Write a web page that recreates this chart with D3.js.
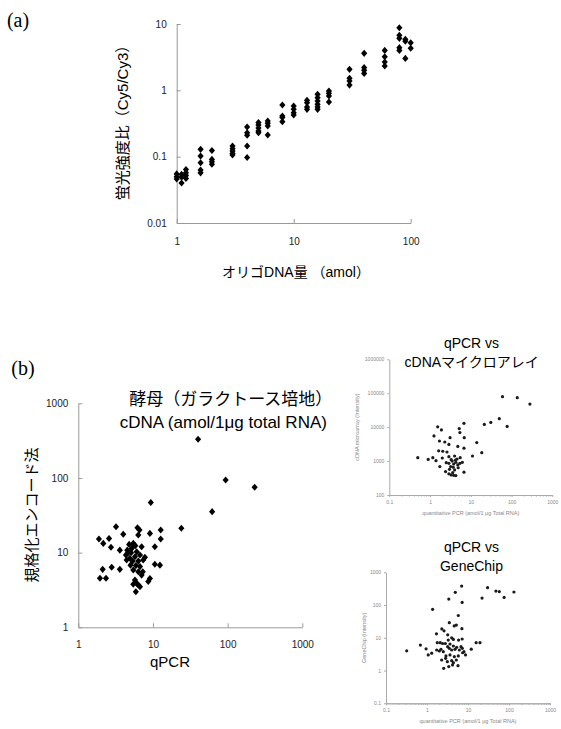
<!DOCTYPE html>
<html>
<head>
<meta charset="utf-8">
<script src="https://cdn.jsdelivr.net/npm/d3@7"></script>
<style>
  body { margin: 0; background: #fff; }
  svg { display: block; }
  text { font-family: "Liberation Sans", "Noto Sans CJK JP", sans-serif; }
</style>
</head>
<body>
<svg id="chart"></svg>
<script>
// (a) oligo DNA amount vs Cy5/Cy3 ratio, several spots per amount
var oligoAmount = [1, 1.1, 1.2, 1.6, 2, 3, 4, 5, 6, 8, 10, 13, 16, 20, 30, 40, 60, 80, 90, 100]
var ratioCols = [
  [0.055, 0.050, 0.046],
  [0.054, 0.049, 0.040],
  [0.064, 0.057, 0.052, 0.047],
  [0.129, 0.102, 0.081, 0.063, 0.057],
  [0.124, 0.091, 0.084, 0.077],
  [0.145, 0.132, 0.122, 0.112, 0.106],
  [0.28, 0.23, 0.21, 0.145, 0.097],
  [0.326, 0.30, 0.27, 0.244, 0.23],
  [0.345, 0.318, 0.29, 0.212],
  [0.60, 0.41, 0.39, 0.337],
  [0.58, 0.52, 0.46, 0.425],
  [0.706, 0.652, 0.56, 0.517],
  [0.87, 0.776, 0.69, 0.615, 0.56, 0.517],
  [0.977, 0.90, 0.82, 0.667],
  [2.07, 1.52, 1.38, 1.2],
  [3.61, 2.2, 2.0, 1.8],
  [4.0, 3.2, 2.68, 2.33],
  [8.8, 6.75, 6.08, 4.4, 4.0],
  [5.87, 5.5, 3.03],
  [5.23, 4.3]
]
var ratioTicks = [0.01, 0.1, 1, 10]
var oligoTicks = [1, 10, 100]

// (b) yeast: qPCR vs normalized encode method
var yeastQpcr = [40.2, 94, 230, 62, 9.35, 24, 3.2, 6.2, 6.6, 6.36, 12.7, 12.7, 9.1, 4.0, 1.89, 2.16, 2.58, 2.74, 3.6, 10.6,
  2.12, 2.35, 1.95, 2.8, 3.6, 10.6, 12.4, 9.1, 8.65, 4.8, 5.45, 7.05, 4.53, 5.2, 6.05, 4.35, 4.9, 5.74, 6.7, 7.8,
  4.44, 5.35, 6.36, 7.4, 5.0, 5.9, 6.7, 5.45, 6.36, 7.3, 7.05, 5.74, 6.05, 6.7, 6.36, 5.9, 5.45, 5.8, 4.6, 5.1]
var yeastEncode = [330, 94, 75, 35.4, 47, 21.2, 22.2, 21.5, 20.1, 17.2, 20.1, 15.2, 18.1, 17.6, 15.2, 13.3, 15.5, 11.8, 10.8, 12.0,
  5.97, 4.53, 4.53, 6.36, 5.97, 7.0, 6.8, 4.5, 4.1, 12.9, 13.3, 12.0, 10.8, 11.4, 10.3, 9.3, 8.4, 8.8, 9.3, 8.65,
  7.96, 7.7, 7.7, 7.96, 6.8, 6.7, 6.5, 5.85, 5.55, 5.55, 5.0, 4.3, 3.88, 3.5, 3.68, 3.0, 3.77, 12.4, 9.9, 10.0]
var yeastTicks = [1, 10, 100, 1000]

// qPCR vs cDNA microarray
var cdnaQpcr = [60, 138, 282, 50, 31, 21.5, 78, 6.8, 1.54, 1.9, 5.2, 5.4, 1.25, 6.9, 3.1, 1.7, 2.3, 14, 2.9, 4.8,
  1.63, 2.05, 6.8, 18.6, 2.6, 4.0, 11, 0.5, 0.9, 1.17, 1.4, 2.0, 2.9, 3.3, 4.6, 5.5, 6.2, 2.5, 2.9, 3.5,
  3.8, 4.3, 4.8, 3.2, 3.7, 1.74, 4.9, 3.0, 2.4, 3.6, 6.8, 2.9, 3.3, 3.8, 4.3, 5.4, 4.2, 4.0]
var cdnaIntensity = [79000, 74000, 48000, 17800, 13800, 12000, 10500, 13000, 10200, 8300, 9100, 6900, 5500, 4900, 4900, 3900, 3650, 3500, 3100, 2700,
  2000, 1950, 2400, 1770, 1850, 1410, 1410, 1260, 1120, 1260, 1030, 1230, 1350, 1100, 1150, 1260, 920, 900, 860, 1000,
  820, 920, 770, 690, 660, 690, 635, 570, 490, 460, 470, 420, 390, 380, 375, 860, 1070, 550]
var cdnaYTicks = [100, 1000, 10000, 100000, 1000000]

// qPCR vs GeneChip
var chipQpcr = [7.0, 4.9, 3.4, 7.2, 1.37, 30, 48, 58, 132, 76, 22, 5.8, 3.5, 4.6, 5.2, 7.1, 2.3, 2.6, 1.7, 3.2,
  4.0, 3.3, 4.4, 5.9, 7.2, 1.78, 2.1, 2.4, 2.8, 15.8, 19.6, 0.69, 0.95, 0.32, 1.07, 1.3, 12, 8.7, 7.4, 5.8,
  4.2, 5.7, 3.4, 2.55, 3.64, 4.39, 3.19, 5.29, 6.75, 1.72, 2.0, 2.19, 2.5, 3.5, 4.0, 4.82, 6.15, 7.27, 7.98, 2.9,
  3.64, 4.64, 2.28, 2.85, 3.13, 4.0, 4.39, 5.19]
var chipIntensity = [380, 245, 152, 120, 74, 340, 268, 257, 250, 171, 163, 48, 29, 23, 24.5, 19, 18.6, 16.3, 13.2, 12.3,
  10, 8.5, 8.9, 8.5, 9.2, 7.1, 7.1, 6.7, 6.7, 7.1, 7.1, 6.0, 4.6, 4.0, 3.0, 3.4, 4.5, 3.0, 3.5, 2.8,
  1.48, 1.41, 1.32, 1.17, 6.47, 5.62, 5.36, 5.12, 5.36, 4.24, 3.95, 4.45, 3.78, 4.77, 4.24, 4.45, 4.24, 4.77, 3.78, 2.79,
  2.99, 2.66, 2.1, 2.36, 1.87, 2.0, 1.74, 2.1]
var chipYTicks = [0.1, 1, 10, 100, 1000]
var smallXTicks = [0.1, 1, 10, 100, 1000]

var svg = d3.select("#chart").attr("width", 561).attr("height", 729)

var diamond = {
  draw: function(ctx, size) {
    var r = Math.sqrt(size / 2)
    ctx.moveTo(0, -r * 1.15)
    ctx.lineTo(r, 0)
    ctx.lineTo(0, r * 1.15)
    ctx.lineTo(-r, 0)
    ctx.closePath()
  }
}
var diamondPath = d3.symbol().type(diamond).size(19)

var styleAxis = function(g, color, textColor, fontSize) {
  g.select(".domain").attr("stroke", color)
  g.selectAll(".tick line").attr("stroke", color)
  g.selectAll(".tick text").attr("fill", textColor)
    .style("font-size", fontSize + "px")
    .style("font-family", "'Liberation Sans', sans-serif")
}

var label = function(x, y, txt, size, rotate, family) {
  var t = svg.append("text")
    .attr("text-anchor", "middle")
    .attr("dy", "0.35em")
    .style("font-size", size + "px")
    .text(txt)
  if (family) t.style("font-family", family)
  if (rotate) t.attr("transform", "translate(" + x + "," + y + ") rotate(-90)")
  else t.attr("x", x).attr("y", y)
  return t
}

// ---------- (a) ----------
var ax = d3.scaleLog().domain([1, 100]).range([176.7, 410.7])
var ay = d3.scaleLog().domain([0.01, 10]).range([223, 24])

svg.append("g").attr("transform", "translate(0,223)")
  .call(d3.axisBottom(ax).tickValues(oligoTicks).tickFormat(String).tickSize(-4).tickSizeOuter(0).tickPadding(15))
  .call(styleAxis, "#999", "#222", 10)
svg.append("g").attr("transform", "translate(176.7,0)")
  .call(d3.axisLeft(ay).tickValues(ratioTicks).tickFormat(String).tickSize(-4).tickSizeOuter(0).tickPadding(10))
  .call(styleAxis, "#999", "#222", 10)

var spots = []
oligoAmount.forEach(function(a, i) {
  ratioCols[i].forEach(function(r) { spots.push({x: a, y: r}) })
})
svg.append("g").selectAll("path")
  .data(spots)
  .enter()
  .append("path")
  .attr("d", diamondPath)
  .attr("transform", function(d) { return "translate(" + ax(d.x) + "," + ay(d.y) + ")" })
  .attr("fill", "#000")

label(123, 119, "蛍光強度比（Cy5/Cy3）", 15, true)
label(296, 272, "オリゴDNA量 （amol）", 14)
label(18, 20, "(a)", 20, false, "'Liberation Serif', serif")

// ---------- (b) main ----------
var bx = d3.scaleLog().domain([1, 1000]).range([78.3, 302.3])
var by = d3.scaleLog().domain([1, 1000]).range([627.3, 403.3])

svg.append("g").attr("transform", "translate(0,627.3)")
  .call(d3.axisBottom(bx).tickValues(yeastTicks).tickFormat(String).tickSize(-4).tickSizeOuter(0).tickPadding(14))
  .call(styleAxis, "#999", "#222", 10)
svg.append("g").attr("transform", "translate(78.3,0)")
  .call(d3.axisLeft(by).tickValues(yeastTicks).tickFormat(String).tickSize(-4).tickSizeOuter(0).tickPadding(10))
  .call(styleAxis, "#999", "#222", 10)

svg.append("g").selectAll("path")
  .data(yeastQpcr)
  .enter()
  .append("path")
  .attr("d", diamondPath)
  .attr("transform", function(d, i) { return "translate(" + bx(d) + "," + by(yeastEncode[i]) + ")" })
  .attr("fill", "#000")

label(230.8, 399.5, "酵母（ガラクトース培地）", 17)
label(223.3, 421.7, "cDNA (amol/1μg total RNA)", 17)
label(31.7, 515, "規格化エンコード法", 15, true)
label(170, 661.7, "qPCR", 15)
label(23, 368, "(b)", 20, false, "'Liberation Serif', serif")

// ---------- small plots ----------
var minorTicks = []
;[0.1, 1, 10, 100].forEach(function(dec) {
  for (var k = 2; k <= 9; k++) minorTicks.push(dec * k)
})

var smallPlot = function(xs, ys, xVals, yVals, yDom, yTicks, left, right, top, bottom, yTitle, yTitleX) {
  var sx = d3.scaleLog().domain([0.1, 1000]).range([left, right])
  var sy = d3.scaleLog().domain(yDom).range([bottom, top])
  svg.append("g").attr("transform", "translate(0," + bottom + ")")
    .call(d3.axisBottom(sx).tickValues(minorTicks).tickFormat("").tickSize(1.5).tickSizeOuter(0))
    .call(styleAxis, "#aaa", "#888", 5)
  svg.append("g").attr("transform", "translate(0," + bottom + ")")
    .call(d3.axisBottom(sx).tickValues(xVals).tickFormat(String).tickSize(2).tickSizeOuter(0).tickPadding(3))
    .call(styleAxis, "#aaa", "#888", 5)
  svg.append("g").attr("transform", "translate(" + left + ",0)")
    .call(d3.axisLeft(sy).tickValues(yTicks).tickFormat(String).tickSize(2).tickSizeOuter(0).tickPadding(3))
    .call(styleAxis, "#aaa", "#888", 5)

  svg.append("g").selectAll("circle")
    .data(xs)
    .enter()
    .append("circle")
    .attr("cx", function(d) { return sx(d) })
    .attr("cy", function(d, i) { return sy(ys[i]) })
    .attr("r", 1.6)
    .attr("fill", "#1a1a1a")

  label((left + right) / 2, bottom + 18, "quantitative PCR (amol/1 μg Total RNA)", 5.5).attr("fill", "#888")
  label(yTitleX, (top + bottom) / 2, yTitle, 5.5, true).attr("fill", "#888")
}

smallPlot(cdnaQpcr, cdnaIntensity, smallXTicks, null, [100, 1000000], cdnaYTicks,
  389.3, 552.3, 359.3, 495, "cDNA microarray (Intensity)", 357)
smallPlot(chipQpcr, chipIntensity, smallXTicks, null, [0.1, 1000], chipYTicks,
  386, 550, 572.3, 703.3, "GeneChip (Intensity)", 364)

label(471.5, 342.7, "qPCR vs", 14)
label(471.7, 361.7, "cDNAマイクロアレイ", 14)
label(471.5, 546.7, "qPCR vs", 14)
label(471.5, 565.7, "GeneChip", 14)
</script>
</body>
</html>
